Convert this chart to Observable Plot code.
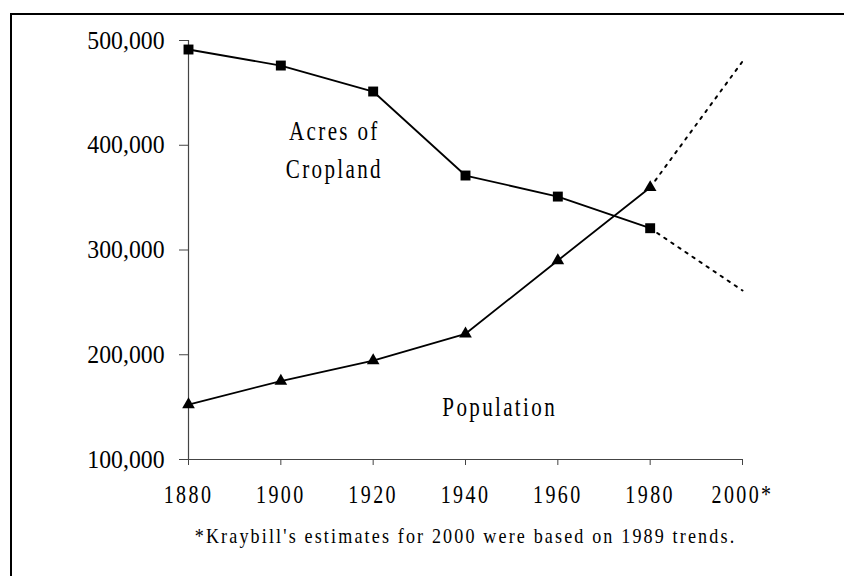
<!DOCTYPE html>
<html><head><meta charset="utf-8">
<script src="https://cdn.jsdelivr.net/npm/d3@7"></script>
<script src="https://cdn.jsdelivr.net/npm/@observablehq/plot@0.6"></script>
<style>
html,body{margin:0;padding:0;background:#fff;}
#wrap{position:relative;width:844px;height:576px;overflow:hidden;}
#border{position:absolute;left:10px;top:13px;right:-5px;bottom:-5px;border-top:2px solid #000;border-left:2px solid #000;pointer-events:none;}
#wrap svg{position:absolute;left:0;top:0;}
</style></head><body><div id="wrap"><div id="border"></div></div>
<script>
// ---- data ----
const years = [1880, 1900, 1920, 1940, 1960, 1980];
const cropland = [491400, 476100, 451300, 371100, 351000, 320800];
const population = [152500, 174800, 194500, 220000, 290000, 359700];
const projectionYears = [1980, 2000];
const croplandProjection = [320800, 261300];
const populationProjection = [359700, 480000];
const xTicks = [1880, 1900, 1920, 1940, 1960, 1980, 2000];
const yTicks = [100000, 200000, 300000, 400000, 500000];
const labelTexts = ["Acres of", "Cropland", "Population"];
const labelYears = [1911.6, 1911.6, 1947.4];
const labelValues = [413000, 377000, 149600];
const footnote = "*Kraybill's estimates for 2000 were based on 1989 trends.";

// ---- tables ----
const cropRows = years.map((year, i) => ({year, value: cropland[i]}));
const popRows = years.map((year, i) => ({year, value: population[i]}));
const cropProj = projectionYears.map((year, i) => ({year, value: croplandProjection[i]}));
const popProj = projectionYears.map((year, i) => ({year, value: populationProjection[i]}));
const labels = labelTexts.map((text, i) => ({text, year: labelYears[i], value: labelValues[i]}));

const chart = Plot.plot({
  width: 844,
  height: 576,
  marginLeft: 188,
  marginRight: 102,
  marginTop: 40,
  marginBottom: 117,
  style: {fontFamily: "'Liberation Serif', 'Times New Roman', serif", color: "black", background: "transparent", overflow: "visible"},
  x: {type: "linear", domain: [1880, 2000], axis: null},
  y: {type: "linear", domain: [100000, 500000], axis: null},
  marks: [
    Plot.ruleX([1880], {y1: 100000, y2: 500000, stroke: "#444", strokeWidth: 1.2}),
    Plot.ruleY([100000], {x1: 1880, x2: 2000, stroke: "#444", strokeWidth: 1.2}),
    Plot.axisY(yTicks, {tickSize: 9, tickPadding: 15, tickFormat: d3.format(","), fontSize: 25, fontFamily: "Liberation Serif", stroke: "#444", label: null}),
    Plot.axisX(xTicks, {tickSize: 6, tickPadding: 20, tickFormat: d => d === 2000 ? "2000*" : String(d), fontSize: 25, fontFamily: "Liberation Serif", stroke: "#444", label: null}),
    Plot.line(cropRows, {x: "year", y: "value", stroke: "black", strokeWidth: 1.8}),
    Plot.line(popRows, {x: "year", y: "value", stroke: "black", strokeWidth: 1.8}),
    Plot.line(cropProj, {x: "year", y: "value", stroke: "black", strokeWidth: 2, strokeDasharray: "2.5,6"}),
    Plot.line(popProj, {x: "year", y: "value", stroke: "black", strokeWidth: 2, strokeDasharray: "2.5,6"}),
    Plot.dot(cropRows, {x: "year", y: "value", symbol: "square", r: 5.6, fill: "black", stroke: "none"}),
    Plot.dot(popRows, {x: "year", y: "value", symbol: "triangle", r: 4.7, fill: "black", stroke: "none"}),
    Plot.text(labels, {x: "year", y: "value", text: "text", fontSize: 27, fontFamily: "Liberation Serif", fill: "black"}),
    Plot.text([footnote], {frameAnchor: "bottom", dy: 83, fontSize: 21, fontFamily: "Liberation Serif", fill: "black"})
  ]
});

document.getElementById("wrap").appendChild(chart);

function condense(texts, spacing, k) {
  texts.forEach(t => {
    t.style.letterSpacing = spacing + "px";
    const L = t.getComputedTextLength();
    t.setAttribute("textLength", (L * k).toFixed(2));
    t.setAttribute("lengthAdjust", "spacingAndGlyphs");
  });
}
const q = sel => Array.from(chart.querySelectorAll(sel));
condense(q('g[aria-label="y-axis tick label"] text'), 0, 0.95);
condense(q('g[aria-label="x-axis tick label"] text'), 3, 0.8);
const textGroups = q('g[aria-label="text"]');
if (textGroups[0]) condense(Array.from(textGroups[0].querySelectorAll("text")), 3, 0.78);
if (textGroups[1]) condense(Array.from(textGroups[1].querySelectorAll("text")), 2.5, 0.86);
</script>
</body></html>
